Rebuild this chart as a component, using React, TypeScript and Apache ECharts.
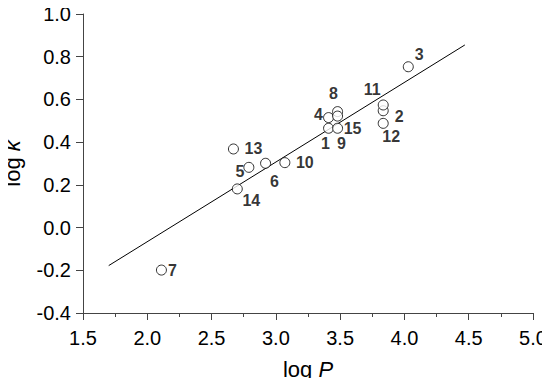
import React, { useEffect, useRef } from "react";
import * as echarts from "echarts";

const pointIds = ["1", "2", "3", "4", "5", "6", "7", "8", "9", "10", "11", "12", "13", "14", "15"];
const logP = [3.41, 3.835, 4.03, 3.41, 2.79, 2.92, 2.11, 3.48, 3.48, 3.07, 3.835, 3.835, 2.67, 2.70, 3.48];
const logK = [0.465, 0.547, 0.753, 0.515, 0.282, 0.301, -0.199, 0.543, 0.465, 0.304, 0.574, 0.488, 0.368, 0.181, 0.522];
// label offsets in px relative to the marker
const labelDx = [-3, 16, 11, -10, -9, 9, 11, -4, 4, 20, -11, 8, 20, 14, 15];
const labelDy = [15, 6, -12, -3, 4, 18, 0, -18, 15, 0, -15, 13, 0, 12, 12];

const fitX = [1.70, 4.47];
const fitY = [-0.178, 0.855];

const xTicks = { min: 1.5, max: 5.0, interval: 0.5 };
const yTicks = { min: -0.4, max: 1.0, interval: 0.2 };

export default function App() {
  const ref = useRef<HTMLDivElement>(null);
  useEffect(() => {
    if (!ref.current) return;
    const chart = echarts.init(ref.current, undefined, { renderer: "svg" });
    const axisColor = "#444";
    const font = "'Liberation Sans', Arial, sans-serif";
    chart.setOption({
      animation: false,
      grid: { left: 83, right: 17, top: 14, bottom: 73, containLabel: false, outerBoundsMode: "none" },
      xAxis: {
        type: "value",
        min: xTicks.min,
        max: xTicks.max,
        interval: xTicks.interval,
        name: "{a|log }{b|P}",
        nameLocation: "middle",
        nameGap: 45,
        nameTextStyle: {
          rich: {
            a: { fontSize: 22, fontFamily: font, color: "#000" },
            b: { fontSize: 22, fontFamily: font, fontStyle: "italic", color: "#000" },
          },
        },
        axisLine: { show: true, onZero: false, lineStyle: { color: axisColor, width: 1 } },
        axisTick: { show: true, length: 7, lineStyle: { color: axisColor } },
        minorTick: { show: true, splitNumber: 2, length: 4, lineStyle: { color: axisColor } },
        splitLine: { show: false },
        axisLabel: {
          fontSize: 20,
          fontFamily: font,
          color: "#000",
          margin: 15,
          formatter: (v: number) => v.toFixed(1),
        },
      },
      yAxis: {
        type: "value",
        min: yTicks.min,
        max: yTicks.max,
        interval: yTicks.interval,
        name: "{a|log }{b|k}",
        nameLocation: "middle",
        nameGap: 60,
        nameTextStyle: {
          rich: {
            a: { fontSize: 22, fontFamily: font, color: "#000" },
            b: { fontSize: 22, fontFamily: font, fontStyle: "italic", color: "#000" },
          },
        },
        axisLine: { show: true, onZero: false, lineStyle: { color: axisColor, width: 1 } },
        axisTick: { show: true, length: 7, lineStyle: { color: axisColor } },
        splitLine: { show: false },
        axisLabel: {
          fontSize: 20,
          fontFamily: font,
          color: "#000",
          margin: 12,
          formatter: (v: number) => v.toFixed(1),
        },
      },
      series: [
        {
          type: "line",
          data: fitX.map((x, i) => [x, fitY[i]]),
          symbol: "none",
          lineStyle: { color: "#000", width: 1 },
          silent: true,
        },
        {
          type: "scatter",
          symbol: "circle",
          symbolSize: 10,
          itemStyle: { color: "#fff", borderColor: "#000", borderWidth: 1 },
          data: pointIds.map((id, i) => ({
            value: [logP[i], logK[i]],
            name: id,
            label: { offset: [labelDx[i], labelDy[i]] },
          })),
          label: {
            show: true,
            position: "inside",
            align: "center",
            verticalAlign: "middle",
            formatter: (p: any) => p.name,
            fontSize: 16,
            fontWeight: "bold",
            fontFamily: font,
            color: "#000",
          },
          z: 3,
        },
      ],
    });
    return () => chart.dispose();
  }, []);
  return <div ref={ref} style={{ width: 550, height: 386, margin: -8 }} />;
}
